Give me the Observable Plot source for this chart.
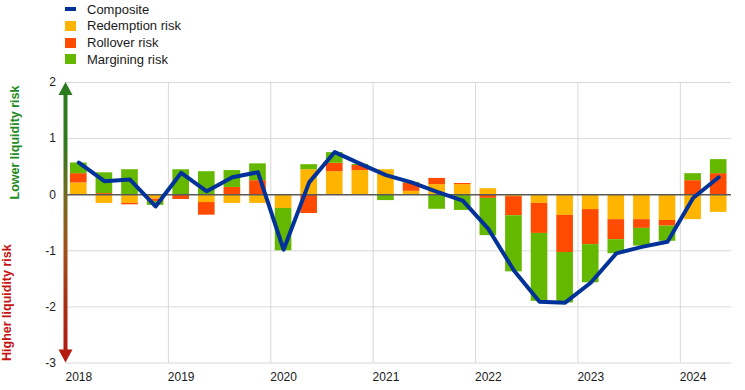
<!DOCTYPE html>
<html><head><meta charset="utf-8">
<script src="https://cdn.jsdelivr.net/npm/d3@7"></script>
<script src="https://cdn.jsdelivr.net/npm/@observablehq/plot@0.6"></script>
<style>
body{margin:0;background:#fff;font-family:Arial,"Liberation Sans",sans-serif;}
#legend{position:relative;height:70px;width:745px;}
.item{position:absolute;left:65px;height:17px;display:flex;align-items:center;font-size:13px;color:#1a1a1a;white-space:nowrap;}
.sw{width:11px;height:10px;margin-right:11px;}
.ln{width:11px;height:4px;margin-right:11px;}
</style></head><body>
<div id="legend"></div>
<div id="chart"></div>
<script>
const quarters = ["2018Q1","2018Q2","2018Q3","2018Q4","2019Q1","2019Q2","2019Q3","2019Q4",
  "2020Q1","2020Q2","2020Q3","2020Q4","2021Q1","2021Q2","2021Q3","2021Q4",
  "2022Q1","2022Q2","2022Q3","2022Q4","2023Q1","2023Q2","2023Q3","2023Q4","2024Q1","2024Q2"];
const redemption = [0.21,-0.155,-0.155,-0.08,0,-0.14,-0.155,-0.155,
  -0.245,0.445,0.41,0.43,0.445,0.06,0.18,0.18,
  0.107,-0.035,-0.155,-0.37,-0.265,-0.445,-0.445,-0.46,-0.445,-0.315];
const rollover = [0.165,0.02,-0.025,-0.04,-0.085,-0.225,0.13,0.25,
  0,-0.335,0.15,0.09,0,0.15,0.11,0.02,
  -0.065,-0.34,-0.535,-0.66,-0.625,-0.357,-0.155,-0.10,0.25,0.375];
const margining = [0.19,0.37,0.445,-0.07,0.445,0.41,0.30,0.30,
  -0.755,0.09,0.19,0.02,-0.105,0.01,-0.26,-0.28,
  -0.665,-1.0,-1.21,-0.90,-0.68,-0.25,-0.315,-0.27,0.125,0.25];
const composite = [0.57,0.24,0.27,-0.21,0.39,0.06,0.31,0.40,
  -0.98,0.22,0.76,0.55,0.35,0.22,0.05,-0.107,
  -0.61,-1.35,-1.91,-1.925,-1.57,-1.046,-0.93,-0.84,-0.06,0.31];
const seriesNames = ["Redemption risk","Rollover risk","Margining risk"];
const seriesColors = ["#FFB400","#FF4B00","#65B800"];
const compositeName = "Composite";
const compositeColor = "#003299";
const yTicks = [-3,-2,-1,0,1,2];
const axisTitles = ["Lower liquidity risk","Higher liquidity risk"];

// legend
const legend = document.getElementById("legend");
const legendItems = [{name: compositeName, color: compositeColor, line: true}]
  .concat(seriesNames.map((n,i)=>({name:n,color:seriesColors[i],line:false})));
legendItems.forEach((it,i)=>{
  const d = document.createElement("div");
  d.className = "item";
  d.style.top = (0.8 + i*16.6) + "px";
  const s = document.createElement("span");
  s.className = it.line ? "ln" : "sw";
  s.style.background = it.color;
  d.appendChild(s);
  d.appendChild(document.createTextNode(it.name));
  legend.appendChild(d);
});

const seriesValues = [redemption, rollover, margining];
const bars = [];
seriesNames.forEach((name, si) => {
  quarters.forEach((q, qi) => bars.push({q, series: name, value: seriesValues[si][qi]}));
});
const line = quarters.map((q,i)=>({q, value: composite[i]}));
const yearStarts = quarters.filter(q => q.endsWith("Q1"));

const W = 745, H = 320, mL = 65.5, mR = 14, mT = 12, mB = 27.5;
const step = (W - mL - mR) / quarters.length;

const plot = Plot.plot({
  width: W, height: H,
  marginLeft: mL, marginRight: mR, marginTop: mT, marginBottom: mB,
  style: {fontSize: "12px", fontFamily: "Arial, 'Liberation Sans', sans-serif", color: "#1a1a1a", background: "#fff"},
  x: {type: "band", domain: quarters, paddingInner: 0.35, paddingOuter: 0.175, round: false,
      ticks: yearStarts, tickFormat: d => d.slice(0,4), tickSize: 0, tickPadding: 9, label: null},
  y: {domain: [-3, 2], ticks: yTicks, tickFormat: d => String(d), tickSize: 0, tickPadding: 10, label: null},
  color: {domain: seriesNames, range: seriesColors},
  marks: [
    Plot.ruleY(yTicks.filter(d => d !== 0), {stroke: "#d9d9d9", strokeWidth: 1}),
    Plot.ruleX(yearStarts.slice(1), {x: d => d, y1: -3, y2: 2, dx: -step/2, stroke: "#d9d9d9", strokeWidth: 1}),
    Plot.barY(bars, Plot.stackY({x: "q", y: "value", fill: "series"})),
    Plot.ruleY([0], {stroke: "#595959", strokeWidth: 1.5}),
    Plot.line(line, {x: "q", y: "value", stroke: compositeColor, strokeWidth: 4, strokeLinejoin: "round", strokeLinecap: "round"}),
    Plot.text([axisTitles[0]], {frameAnchor: "top-left", rotate: -90, textAnchor: "end", dx: -55.5, dy: 3, fill: "#1f8a1f", fontSize: 12.5, fontWeight: "bold"}),
    Plot.text([axisTitles[1]], {frameAnchor: "bottom-left", rotate: -90, textAnchor: "start", dx: -55.5, dy: -2, fill: "#c41414", fontSize: 12.5, fontWeight: "bold"})
  ]
});
document.getElementById("chart").appendChild(plot);

// gradient arrow along the y axis
const ys = plot.scale("y");
const yTop = ys.apply(2), yBot = ys.apply(-3);
const ax = mL;
const svg = d3.select(plot);
const defs = svg.append("defs");
const g = defs.append("linearGradient").attr("id","axisGrad")
  .attr("gradientUnits","userSpaceOnUse").attr("x1",0).attr("x2",0).attr("y1",yTop).attr("y2",yBot);
[[0,"#2b7a1e"],[0.22,"#317a1e"],[0.42,"#776a1e"],[0.6,"#a0501a"],[0.8,"#a82c14"],[1,"#b3190f"]]
  .forEach(([o,c]) => g.append("stop").attr("offset",o).attr("stop-color",c));
const ag = svg.append("g");
ag.append("line").attr("x1",ax).attr("x2",ax).attr("y1",yTop+10).attr("y2",yBot-10)
  .attr("stroke","url(#axisGrad)").attr("stroke-width",4);
ag.append("path").attr("d",`M${ax},${yTop}L${ax+7},${yTop+13}L${ax-7},${yTop+13}Z`).attr("fill","#2b7a1e");
ag.append("path").attr("d",`M${ax},${yBot}L${ax+7},${yBot-13}L${ax-7},${yBot-13}Z`).attr("fill","#b3190f");
</script>
</body></html>
